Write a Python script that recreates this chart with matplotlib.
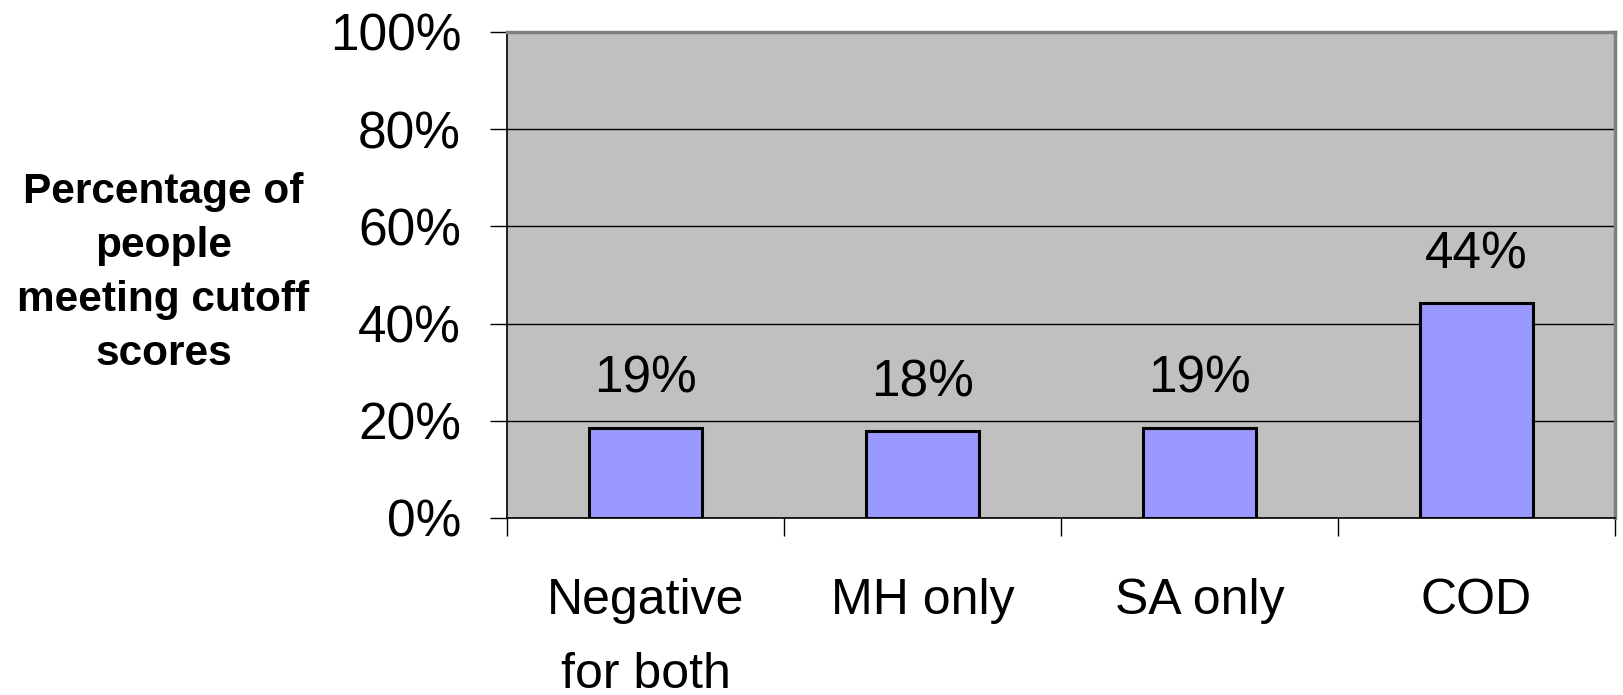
import matplotlib.pyplot as plt
import numpy as np

categories = ['Negative\nfor both', 'MH only', 'SA only', 'COD']
percent_meeting = [18.6, 17.8, 18.6, 44.2]
y_ticks = [0, 20, 40, 60, 80, 100]

plt.rcParams['font.family'] = ['Liberation Sans', 'DejaVu Sans']

fig = plt.figure(figsize=(16.23, 6.95), dpi=100)
fig.patch.set_facecolor('white')
ax = fig.add_axes([0.3124, 0.2547, 0.6827, 0.6993])
ax.set_facecolor('#c0c0c0')

x = np.arange(len(categories))
bars = ax.bar(x, percent_meeting, width=0.41, color='#9999ff',
              edgecolor='black', linewidth=2.2, zorder=3)

for bar, v in zip(bars, percent_meeting):
    ax.annotate(f'{v:.0f}%', (bar.get_x() + bar.get_width() / 2, v),
                xytext=(0, 25), textcoords='offset points',
                ha='center', va='baseline', fontsize=37)

ax.set_xlim(-0.5, len(categories) - 0.5)
ax.set_ylim(0, 100)
ax.set_yticks(y_ticks)
ax.set_yticklabels([f'{t}%' for t in y_ticks], fontsize=37)
ax.yaxis.grid(True, color='black', linewidth=1.0, zorder=1)
ax.set_axisbelow(True)

# ticks sit between categories, labels centred under bars
ax.set_xticks(np.arange(len(categories) + 1) - 0.5)
ax.set_xticklabels([])
ax.set_xticks(x, minor=True)
ax.set_xticklabels(categories, minor=True, fontsize=36, linespacing=1.78)
ax.tick_params(axis='x', which='minor', length=0, pad=43)
ax.tick_params(axis='x', which='major', length=13, width=1, color='black')
ax.tick_params(axis='y', length=12, width=1, pad=21)

for side in ['left', 'bottom']:
    ax.spines[side].set_color('black')
    ax.spines[side].set_linewidth(1.2)
for side in ['top', 'right']:
    ax.spines[side].set_color('#808080')
    ax.spines[side].set_linewidth(2.5)

fig.text(0.1007, 0.607, 'Percentage of\npeople\nmeeting cutoff\nscores',
         ha='center', va='center', fontsize=30.5, fontweight='bold',
         linespacing=1.45)

fig.savefig('out.png', dpi=100)
